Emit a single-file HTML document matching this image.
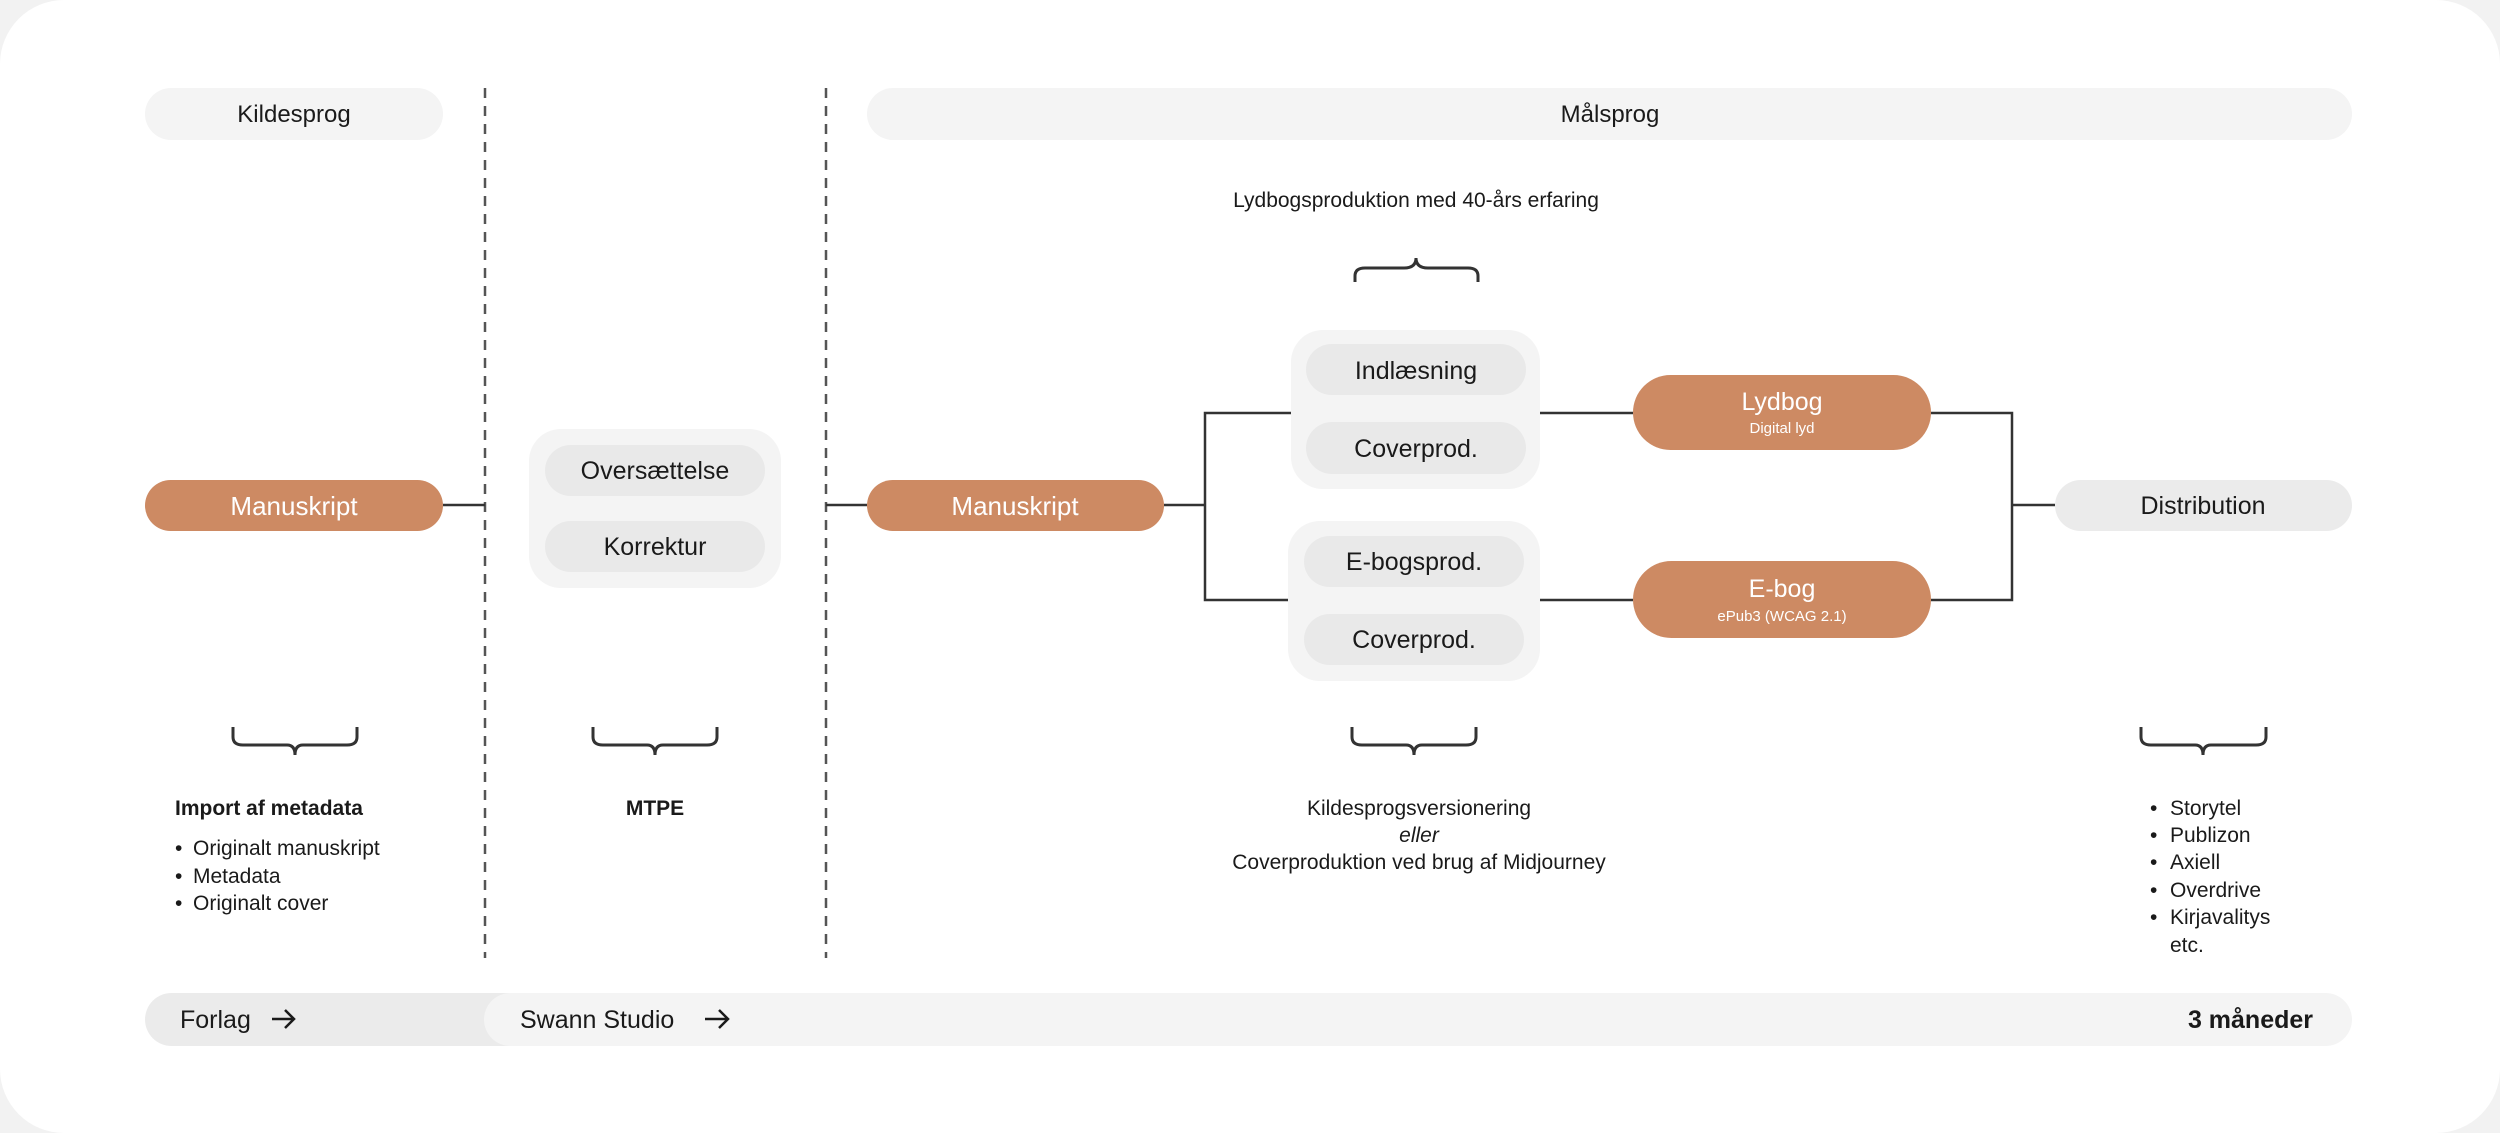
<!DOCTYPE html>
<html><head><meta charset="utf-8"><style>
html,body{margin:0;padding:0;background:#f2f2f2;}
svg{display:block;}
text{font-family:"Liberation Sans",sans-serif;fill:#1a1a1a;}
</style></head><body>
<svg width="2500" height="1133" viewBox="0 0 2500 1133" xmlns="http://www.w3.org/2000/svg">
<rect x="0" y="0" width="2500" height="1133" rx="64" fill="#ffffff"/>
<!-- headers -->
<rect x="145" y="88" width="298" height="52" rx="26" fill="#f4f4f4"/>
<text x="294" y="122" font-size="24" text-anchor="middle">Kildesprog</text>
<rect x="867" y="88" width="1485" height="52" rx="26" fill="#f4f4f4"/>
<text x="1610" y="122" font-size="24" text-anchor="middle">Målsprog</text>
<!-- dashed -->
<line x1="485" y1="88" x2="485" y2="958" stroke="#555" stroke-width="2.5" stroke-dasharray="10 8"/>
<line x1="826" y1="88" x2="826" y2="958" stroke="#555" stroke-width="2.5" stroke-dasharray="10 8"/>
<text x="1416" y="207" font-size="21" text-anchor="middle">Lydbogsproduktion med 40-års erfaring</text>
<path d="M1355,282 V276 Q1355,268 1365,268 H1404 Q1416,268 1416,258 Q1416,268 1428,268 H1468 Q1478,268 1478,276 V282" fill="none" stroke="#333" stroke-width="3"/>
<!-- connectors -->
<g stroke="#333" stroke-width="2.5" fill="none">
<line x1="443" y1="505" x2="485" y2="505"/>
<line x1="826" y1="505" x2="867" y2="505"/>
<line x1="1164" y1="505" x2="1205" y2="505"/>
<polyline points="1291,413 1205,413 1205,600 1288,600"/>
<line x1="1540" y1="413" x2="1633" y2="413"/>
<line x1="1540" y1="600" x2="1633" y2="600"/>
<polyline points="1931,413 2012,413 2012,600 1931,600"/>
<line x1="2012" y1="505" x2="2055" y2="505"/>
</g>
<!-- nodes -->
<rect x="145" y="480" width="298" height="51" rx="25.5" fill="#cd8a63"/>
<text x="294" y="515" font-size="26" text-anchor="middle" style="fill:#fff">Manuskript</text>
<rect x="529" y="429" width="252" height="159" rx="32" fill="#f4f4f4"/>
<rect x="545" y="445" width="220" height="51" rx="25.5" fill="#e9e9e9"/>
<text x="655" y="479" font-size="25" text-anchor="middle">Oversættelse</text>
<rect x="545" y="521" width="220" height="51" rx="25.5" fill="#e9e9e9"/>
<text x="655" y="555" font-size="25" text-anchor="middle">Korrektur</text>
<rect x="867" y="480" width="297" height="51" rx="25.5" fill="#cd8a63"/>
<text x="1015" y="515" font-size="26" text-anchor="middle" style="fill:#fff">Manuskript</text>
<rect x="1291" y="330" width="249" height="159" rx="32" fill="#f4f4f4"/>
<rect x="1306" y="344" width="220" height="51" rx="25.5" fill="#e9e9e9"/>
<text x="1416" y="379" font-size="25" text-anchor="middle">Indlæsning</text>
<rect x="1306" y="422" width="220" height="52" rx="26" fill="#e9e9e9"/>
<text x="1416" y="457" font-size="25" text-anchor="middle">Coverprod.</text>
<rect x="1288" y="521" width="252" height="160" rx="32" fill="#f4f4f4"/>
<rect x="1304" y="536" width="220" height="51" rx="25.5" fill="#e9e9e9"/>
<text x="1414" y="570" font-size="25" text-anchor="middle">E-bogsprod.</text>
<rect x="1304" y="614" width="220" height="51" rx="25.5" fill="#e9e9e9"/>
<text x="1414" y="648" font-size="25" text-anchor="middle">Coverprod.</text>
<rect x="1633" y="375" width="298" height="75" rx="37.5" fill="#cd8a63"/>
<text x="1782" y="410" font-size="25" text-anchor="middle" style="fill:#fff">Lydbog</text>
<text x="1782" y="433" font-size="15" text-anchor="middle" style="fill:#fff">Digital lyd</text>
<rect x="1633" y="561" width="298" height="77" rx="38.5" fill="#cd8a63"/>
<text x="1782" y="597" font-size="25" text-anchor="middle" style="fill:#fff">E-bog</text>
<text x="1782" y="621" font-size="15" text-anchor="middle" style="fill:#fff">ePub3 (WCAG 2.1)</text>
<rect x="2055" y="480" width="297" height="51" rx="25.5" fill="#ebebeb"/>
<text x="2203" y="514" font-size="25" text-anchor="middle">Distribution</text>
<!-- bottom braces -->
<g fill="none" stroke="#333" stroke-width="3">
<path d="M233,727 V737 Q233,745 243,745 H287 Q295,745 295,755 Q295,745 303,745 H347 Q357,745 357,737 V727"/>
<path d="M593,727 V737 Q593,745 603,745 H647 Q655,745 655,755 Q655,745 663,745 H707 Q717,745 717,737 V727"/>
<path d="M1352,727 V737 Q1352,745 1362,745 H1406 Q1414,745 1414,755 Q1414,745 1422,745 H1466 Q1476,745 1476,737 V727"/>
<path d="M2141,727 V737 Q2141,745 2151,745 H2195 Q2203,745 2203,755 Q2203,745 2211,745 H2256 Q2266,745 2266,737 V727"/>
</g>
<!-- descriptions -->
<text x="175" y="815" font-size="21" font-weight="bold">Import af metadata</text>
<g font-size="21">
<text x="175" y="855">•</text><text x="193" y="855">Originalt manuskript</text>
<text x="175" y="883">•</text><text x="193" y="883">Metadata</text>
<text x="175" y="910">•</text><text x="193" y="910">Originalt cover</text>
</g>
<text x="655" y="815" font-size="21" font-weight="bold" text-anchor="middle">MTPE</text>
<g font-size="21" text-anchor="middle">
<text x="1419" y="815">Kildesprogsversionering</text>
<text x="1419" y="842" font-style="italic">eller</text>
<text x="1419" y="869">Coverproduktion ved brug af Midjourney</text>
</g>
<g font-size="21">
<text x="2150" y="815">•</text><text x="2170" y="815">Storytel</text>
<text x="2150" y="842">•</text><text x="2170" y="842">Publizon</text>
<text x="2150" y="869">•</text><text x="2170" y="869">Axiell</text>
<text x="2150" y="897">•</text><text x="2170" y="897">Overdrive</text>
<text x="2150" y="924">•</text><text x="2170" y="924">Kirjavalitys</text>
<text x="2170" y="952">etc.</text>
</g>
<!-- bottom bar -->
<rect x="145" y="993" width="400" height="53" rx="26.5" fill="#ebebeb"/>
<rect x="484" y="993" width="1868" height="53" rx="26.5" fill="#f4f4f4"/>
<text x="180" y="1028" font-size="25">Forlag</text>
<path d="M272,1019 H294 M285,1010 L294,1019 L285,1028" fill="none" stroke="#1a1a1a" stroke-width="2.5"/>
<text x="520" y="1028" font-size="25">Swann Studio</text>
<path d="M705,1019 H728 M719,1010 L728,1019 L719,1028" fill="none" stroke="#1a1a1a" stroke-width="2.5"/>
<text x="2313" y="1028" font-size="25" text-anchor="end" font-weight="bold">3 måneder</text>
</svg>
</body></html>
